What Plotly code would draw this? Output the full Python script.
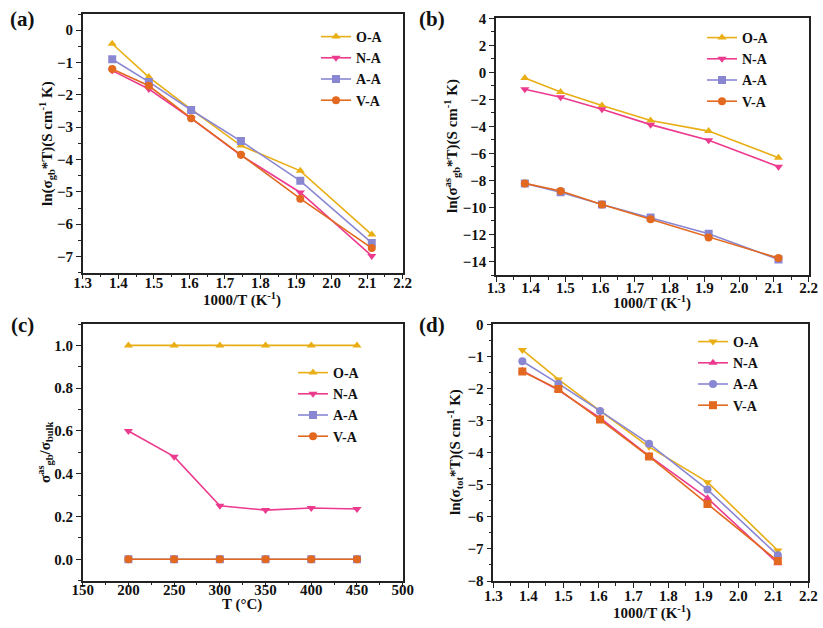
import plotly.graph_objects as go

# ---------------- data ----------------
temps_c = [450, 400, 350, 300, 250, 200]
inv_T = [1.383, 1.486, 1.605, 1.745, 1.912, 2.113]
series = ["O-A", "N-A", "A-A", "V-A"]

# (a) ln(sigma_gb*T)
a_OA = [-0.42, -1.45, -2.45, -3.57, -4.35, -6.32]
a_NA = [-1.25, -1.82, -2.73, -3.87, -5.02, -6.98]
a_AA = [-0.90, -1.60, -2.47, -3.43, -4.66, -6.58]
a_VA = [-1.20, -1.72, -2.72, -3.85, -5.21, -6.74]

# (b) ln(sigma^as_gb*T)
b_OA = [-0.42, -1.45, -2.45, -3.57, -4.35, -6.32]
b_NA = [-1.25, -1.85, -2.73, -3.87, -5.02, -6.98]
b_AA = [-8.22, -8.88, -9.78, -10.75, -11.95, -13.85]
b_VA = [-8.22, -8.78, -9.78, -10.88, -12.22, -13.75]

# (c) sigma^as_gb / sigma_bulk vs T
c_T = [200, 250, 300, 350, 400, 450]
c_OA = [1.0, 1.0, 1.0, 1.0, 1.0, 1.0]
c_NA = [0.60, 0.48, 0.25, 0.23, 0.24, 0.235]
c_AA = [0.0, 0.0, 0.0, 0.0, 0.0, 0.0]
c_VA = [0.0, 0.0, 0.0, 0.0, 0.0, 0.0]

# (d) ln(sigma_tot*T)
d_OA = [-0.80, -1.72, -2.70, -3.82, -4.92, -7.05]
d_NA = [-1.45, -2.05, -2.92, -4.10, -5.42, -7.45]
d_AA = [-1.15, -1.85, -2.70, -3.72, -5.15, -7.20]
d_VA = [-1.47, -2.02, -2.97, -4.12, -5.60, -7.38]

# ---------------- styling ----------------
colors = {"O-A": "#E8AE14", "N-A": "#EC3A8E", "A-A": "#8A87D2", "V-A": "#E2691F"}
sym_abc = {"O-A": "triangle-up", "N-A": "triangle-down", "A-A": "square", "V-A": "circle"}
sym_d = {"O-A": "triangle-down", "N-A": "triangle-up", "A-A": "circle", "V-A": "square"}
FONT = "Liberation Serif"

fig = go.Figure()

panels = [
    ("x", "y", "legend", inv_T, [a_OA, a_NA, a_AA, a_VA], sym_abc),
    ("x2", "y2", "legend2", inv_T, [b_OA, b_NA, b_AA, b_VA], sym_abc),
    ("x3", "y3", "legend3", c_T, [c_OA, c_NA, c_AA, c_VA], sym_abc),
    ("x4", "y4", "legend4", inv_T, [d_OA, d_NA, d_AA, d_VA], sym_d),
]
for xa, ya, lg, xs, ys_list, syms in panels:
    for name, ys in zip(series, ys_list):
        fig.add_trace(go.Scatter(
            x=xs, y=ys, name=name, mode="lines+markers",
            line=dict(color=colors[name], width=1.6),
            marker=dict(symbol=syms[name], size=8, color=colors[name]),
            xaxis=xa, yaxis=ya, legend=lg,
        ))

W, H = 823, 628
def px_x(p):
    return p / W
def px_y(p):
    return 1 - p / H

dom = {
    "a": ([82.7, 402.7], [14, 272.7]),
    "b": ([496, 808.7], [18.3, 275]),
    "c": ([82.7, 402.7], [324, 580.7]),
    "d": ([493.3, 808.3], [324.3, 581]),
}

def xdom(k):
    return [px_x(dom[k][0][0]), px_x(dom[k][0][1])]
def ydom(k):
    return [px_y(dom[k][1][1]), px_y(dom[k][1][0])]

tickfont = dict(family=FONT, size=15, color="#111", weight="bold")

def axis(domain, rng, dtick, minor_dtick, anchor, tick0=None, standoff=0):
    d = dict(
        domain=domain, range=rng, dtick=dtick, anchor=anchor,
        showgrid=False, zeroline=False, showline=True, mirror=True,
        linecolor="#222", linewidth=1.5, ticks="outside", ticklen=5,
        tickwidth=1.3, tickcolor="#222", tickfont=tickfont, automargin=False,
        ticklabelstandoff=standoff,
        minor=dict(dtick=minor_dtick, ticks="outside", ticklen=3,
                   tickwidth=1.1, tickcolor="#222", showgrid=False),
    )
    if tick0 is not None:
        d["tick0"] = tick0
    return d

fig.update_layout(
    width=W, height=H,
    margin=dict(l=0, r=0, t=0, b=0),
    paper_bgcolor="white", plot_bgcolor="white",
    font=dict(family=FONT, size=14, color="#111", weight="bold"),
    xaxis=axis(xdom("a"), [1.3, 2.2], 0.1, 0.05, "y", tick0=1.3, standoff=-9),
    yaxis=axis(ydom("a"), [-7.5, 0.5], 1, 0.5, "x"),
    xaxis2=axis(xdom("b"), [1.3, 2.2], 0.1, 0.05, "y2", tick0=1.3, standoff=-7),
    yaxis2=axis(ydom("b"), [-15, 4], 2, 1, "x2", tick0=0),
    xaxis3=axis(xdom("c"), [150, 500], 50, 25, "y3", tick0=150, standoff=-10),
    yaxis3=axis(ydom("c"), [-0.1, 1.1], 0.2, 0.1, "x3", tick0=0),
    xaxis4=axis(xdom("d"), [1.3, 2.2], 0.1, 0.05, "y4", tick0=1.3, standoff=-5),
    yaxis4=axis(ydom("d"), [-8, 0], 1, 0.5, "x4"),
    showlegend=True,
)

for i, (lx, ly) in enumerate([(316, 21), (702, 22), (293, 357), (693, 326)]):
    key = "legend" if i == 0 else f"legend{i+1}"
    fig.update_layout({key: dict(
        x=px_x(lx), y=px_y(ly), xanchor="left", yanchor="top",
        bgcolor="rgba(0,0,0,0)", borderwidth=0,
        font=dict(family=FONT, size=14, color="#111", weight="bold"),
        itemwidth=30, tracegroupgap=0,
    )})

fig.update_layout(
    xaxis=dict(tickformat=".1f"), xaxis2=dict(tickformat=".1f"),
    xaxis4=dict(tickformat=".1f"), yaxis3=dict(tickformat=".1f"),
)

ann = []
def text(x, y, s, size=15, angle=0):
    ann.append(dict(x=px_x(x), y=px_y(y), xref="paper", yref="paper", text=s,
                    showarrow=False, textangle=angle, xanchor="center", yanchor="middle",
                    font=dict(family=FONT, size=size, color="#111", weight="bold")))

# panel labels
text(22, 19, "(a)", size=21)
text(432, 19, "(b)", size=21)
text(22, 325, "(c)", size=21)
text(432, 325, "(d)", size=21)

# x titles
text(242, 299, "1000/T (K<sup>-1</sup>)")
text(652, 302, "1000/T (K<sup>-1</sup>)")
text(242, 604, "T (\u00b0C)")
text(652, 612, "1000/T (K<sup>-1</sup>)")

# y titles
text(47, 144, "ln(\u03c3<sub>gb</sub>*T)(S cm<sup>-1</sup> K)", angle=-90)
text(452, 146, "ln(\u03c3<sup>as</sup><sub>gb</sub>*T)(S cm<sup>-1</sup> K)", angle=-90)
text(45, 452, "\u03c3<sup>as</sup><sub>gb</sub>/\u03c3<sub>bulk</sub>", angle=-90)
text(455, 452, "ln(\u03c3<sub>tot</sub>*T)(S cm<sup>-1</sup> K)", angle=-90)

fig.update_layout(annotations=ann)

fig.write_html("out.html")
